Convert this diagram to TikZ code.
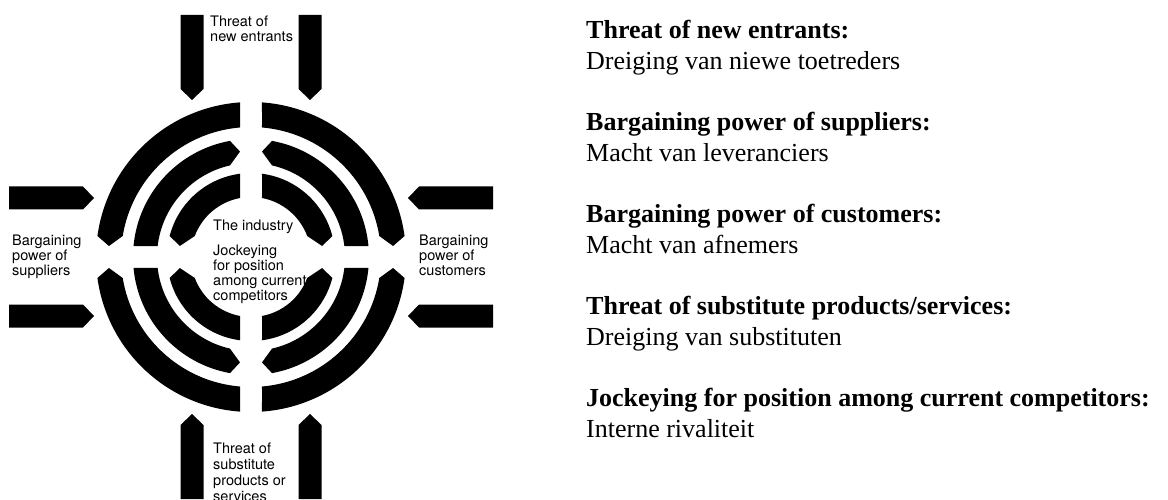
\documentclass[tikz,border=0pt]{standalone}
\usepackage{fontspec}
\setmainfont{Liberation Serif}
\newfontfamily\helv{TeX Gyre Heros}
\usepackage{tikz}
\definecolor{ink}{HTML}{000000}
\tikzset{
  block/.style={fill=ink},
  forcelabel/.style={anchor=north west, inner sep=0pt, align=left, font=\helv\fontsize{14.5}{15}\selectfont},
  termlabel/.style={anchor=north west, inner sep=0pt, align=left, font=\fontsize{26}{30.67}\selectfont},
}
% quarter of a ring: inner r, outer r, set-back at horizontal gap, set-back at vertical gap
\newcommand\ringpiece[4]{%
  \pgfmathsetmacro\rmid{(#1+#2)/2}%
  \fill[block] ({asin((\gap+#3)/#2)}:#2)
     arc[start angle={asin((\gap+#3)/#2)}, end angle={90-asin((\gap+#4)/#2)}, radius=#2]
     -- ({90-asin(\gap/\rmid)}:\rmid)
     -- ({90-asin((\gap+#4)/#1)}:#1)
     arc[start angle={90-asin((\gap+#4)/#1)}, end angle={asin((\gap+#3)/#1)}, radius=#1]
     -- ({asin(\gap/\rmid)}:\rmid) -- cycle;
}

\begin{document}
\begin{tikzpicture}[x=1pt,y=1pt]
\useasboundingbox (0,0) rectangle (1168,499);
\def\gap{11}
\begin{scope}[shift={(251,242)}]
  % Rings, one quarter at a time
  \foreach \sx/\sy in {1/1,-1/1,-1/-1,1/-1}{
    \begin{scope}[xscale=\sx, yscale=\sy]
      % Outer ring
      \ringpiece{130}{155}{10}{0}
      % Middle ring
      \ringpiece{94}{118}{0}{10}
      % Inner ring
      \ringpiece{60}{84}{10}{0}
    \end{scope}
  }
  % Force arrows pointing at the rings
  \foreach \rot in {0,90,180,270}
    \foreach \off in {-59,59}
      \fill[block, rotate=\rot] (\off-11.5,242) -- (\off+11.5,242) -- (\off+11.5,168)
            -- (\off,157) -- (\off-11.5,168) -- cycle;
\end{scope}
% Force labels
\node[forcelabel] (entrants) at (210,483) {Threat of\\new entrants};
\node[forcelabel] (suppliers) at (12,264.5) {Bargaining\\power of\\suppliers};
\node[forcelabel] (customers) at (419,264.5) {Bargaining\\power of\\customers};
\node[forcelabel, font=\helv\fontsize{14.5}{16}\selectfont] (substitutes) at (213,56) {Threat of\\substitute\\products or\\services};
\node[forcelabel] (industry) at (213,279) {The industry};
\node[forcelabel] (rivalry) at (213,254) {Jockeying\\for position\\among current\\competitors};
% Translations
\foreach [count=\i] \force/\dutch in {Threat of new entrants/Dreiging van niewe toetreders,
    Bargaining power of suppliers/Macht van leveranciers,
    Bargaining power of customers/Macht van afnemers,
    {Threat of substitute products/services}/Dreiging van substituten,
    Jockeying for position among current competitors/Interne rivaliteit}{
  \node[termlabel] (term\i) at (586,{479-(\i-1)*92}) {\textbf{\force:}\\\dutch};
}
\end{tikzpicture}
\end{document}
